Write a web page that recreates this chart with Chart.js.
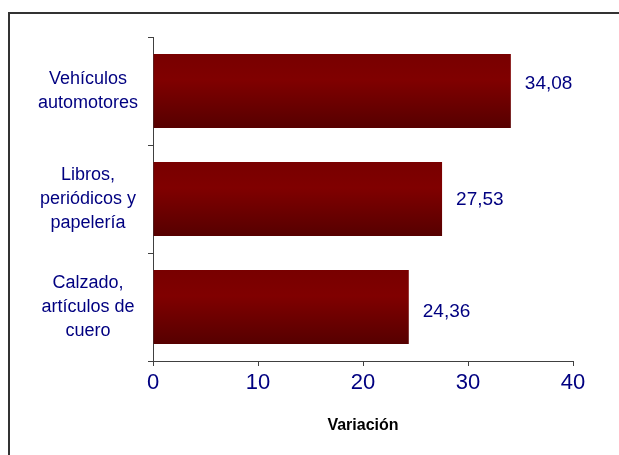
<!DOCTYPE html>
<html>
<head>
<meta charset="utf-8">
<script src="https://cdn.jsdelivr.net/npm/chart.js@4"></script>
<style>
    html, body { margin: 0; padding: 0; background: #ffffff; }
    #wrap { position: relative; width: 619px; height: 455px; }
</style>
</head>
<body>
<div id="wrap"><canvas id="chart" width="619" height="455"></canvas></div>
<script>
var categories = [
    ["Vehículos", "automotores"],
    ["Libros,", "periódicos y", "papelería"],
    ["Calzado,", "artículos de", "cuero"]
];
var variacion = [34.08, 27.53, 24.36];
var valueLabels = ["34,08", "27,53", "24,36"];
var xTicks = [0, 10, 20, 30, 40];

var FONT = "'Liberation Sans', Arial, sans-serif";
var NAVY = "#000080";

function barGradient (context) {
    var chart = context.chart;
    if (!chart.chartArea) {
        return "#7a0000";
    }
    var yScale = chart.scales.y;
    var center = yScale.getPixelForValue(context.dataIndex);
    var band = (yScale.bottom - yScale.top) / categories.length;
    var half = band * 0.685 / 2;
    var g = chart.ctx.createLinearGradient(0, center - half, 0, center + half);
    g.addColorStop(0, "#780000");
    g.addColorStop(0.35, "#800000");
    g.addColorStop(1, "#560000");
    return g;
}

var framePlugin = {
    id: "frame",
    beforeDraw: (chart) => {
        var ctx = chart.ctx;
        ctx.save();
        ctx.fillStyle = "#ffffff";
        ctx.fillRect(0, 0, chart.width, chart.height);
        ctx.strokeStyle = "#333333";
        ctx.lineWidth = 2;
        ctx.strokeRect(9, 13, chart.width + 20, chart.height + 20);
        ctx.restore();
    }
};

// the original places the value labels a little unevenly
var labelNudge = [-7, 1, 5];

var valuePlugin = {
    id: "values",
    afterDatasetsDraw: (chart) => {
        var ctx = chart.ctx;
        var meta = chart.getDatasetMeta(0);
        ctx.save();
        ctx.font = "19px " + FONT;
        ctx.fillStyle = NAVY;
        ctx.textAlign = "left";
        ctx.textBaseline = "middle";
        meta.data.forEach((bar, i) => {
            ctx.fillText(valueLabels[i], bar.x + 14, bar.y + labelNudge[i]);
        });
        ctx.restore();
    }
};

new Chart(document.getElementById("chart").getContext("2d"), {
    type: "bar",
    data: {
        labels: categories,
        datasets: [{
            label: "Variación",
            data: variacion,
            backgroundColor: barGradient,
            borderWidth: 0,
            categoryPercentage: 1,
            barPercentage: 0.685
        }]
    },
    options: {
        indexAxis: "y",
        responsive: false,
        animation: false,
        layout: {
            padding: { top: 37, right: 46, bottom: 0, left: 10 }
        },
        plugins: {
            legend: { display: false },
            tooltip: { enabled: false }
        },
        scales: {
            x: {
                min: 0,
                max: 40,
                afterBuildTicks: (scale) => {
                    scale.ticks = xTicks.map((v) => ({ value: v }));
                },
                afterFit: (scale) => {
                    scale.height = 94;
                },
                grid: {
                    drawOnChartArea: false,
                    tickLength: 5,
                    color: "#404040"
                },
                border: { color: "#404040", width: 1 },
                ticks: {
                    padding: 4,
                    color: NAVY,
                    font: { family: FONT, size: 22 }
                },
                title: {
                    display: true,
                    text: "Variación",
                    color: "#000000",
                    font: { family: FONT, size: 16, weight: "bold" },
                    padding: { top: 0, bottom: 20 }
                }
            },
            y: {
                afterFit: (scale) => {
                    scale.width = 143;
                    scale.paddingTop = 0;
                    scale.paddingBottom = 0;
                },
                grid: {
                    drawOnChartArea: false,
                    offset: true,
                    tickLength: 5,
                    color: "#404040"
                },
                border: { color: "#404040", width: 1 },
                ticks: {
                    padding: 10,
                    crossAlign: "center",
                    color: NAVY,
                    font: { family: FONT, size: 18, lineHeight: 1.35 }
                }
            }
        }
    },
    plugins: [framePlugin, valuePlugin]
});
</script>
</body>
</html>
